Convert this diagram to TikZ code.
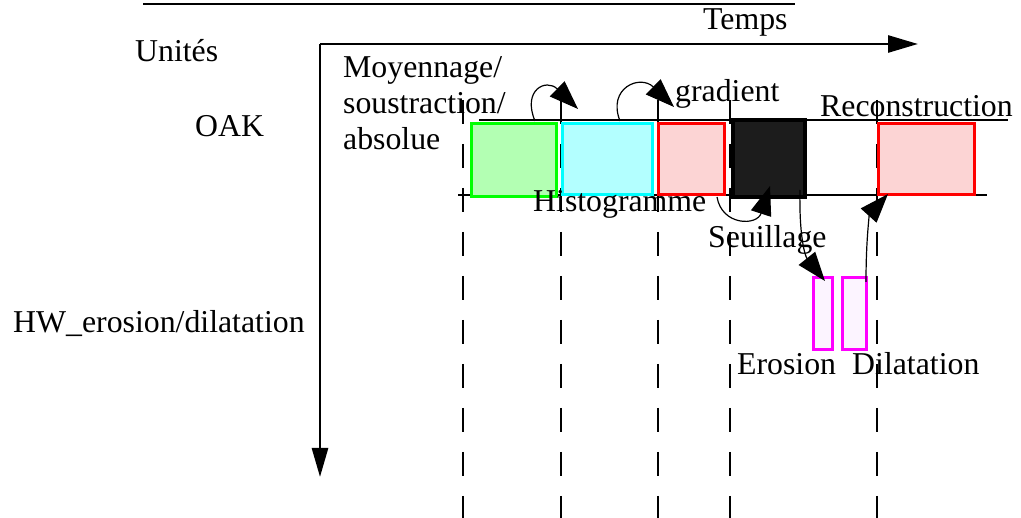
\documentclass[tikz,border=0pt]{standalone}
\usepackage{fontspec}
\setmainfont{Liberation Serif}
\usetikzlibrary{arrows.meta}
\definecolor{gfill}{RGB}{179,255,179}
\definecolor{gline}{RGB}{0,255,0}
\definecolor{cfill}{RGB}{179,255,255}
\definecolor{cline}{RGB}{0,255,255}
\definecolor{rfill}{RGB}{252,212,212}
\definecolor{rline}{RGB}{255,0,0}
\definecolor{kfill}{RGB}{28,28,28}
\definecolor{mline}{RGB}{255,0,255}
\definecolor{mfill}{RGB}{252,244,255}
\begin{document}
\begin{tikzpicture}[x=1pt,y=-1pt,
  lbl/.style={font=\fontsize{31.8pt}{36pt}\selectfont, inner sep=0pt, anchor=base west},
  box/.style={draw, rectangle, inner sep=0pt, anchor=north west, line width=3pt},
  dashline/.style={dash pattern=on 24pt off 20pt, line width=1.2pt},
  axis/.style={line width=2.7pt},
  arr/.style={line width=1.2pt, -{Triangle[length=29pt,width=21pt]}}]
\useasboundingbox (0,0) rectangle (1021,518);
% top rule
\coordinate (r1) at (143,4);
\coordinate (r2) at (795,4);
\draw[line width=1.3pt] (r1) -- (r2);
% axes
\coordinate (o) at (320,44);
\coordinate (xe) at (918,44);
\coordinate (ye) at (320,477);
\draw[axis, -{Triangle[length=30pt,width=17pt]}] (o) -- (xe);
\draw[axis, -{Triangle[length=29pt,width=16pt]}] (o) -- (ye);
% horizontal track lines
\coordinate (t1) at (479,120);
\coordinate (t2) at (1008,120);
\coordinate (b1) at (458,195);
\coordinate (b2) at (987,195);
\draw[line width=2.5pt] (t1) -- (t2);
\draw[line width=2.5pt] (b1) -- (b2);
% dashed lines
\foreach \xx/\w [count=\i] in {463/2.4, 561/1.2, 658/1.2, 730/1.2, 877/1.2}{
  \coordinate (d\i a) at (\xx,100);
  \coordinate (d\i b) at (\xx,518);
  \draw[dashline, line width=\w pt] (d\i a) -- (d\i b);
}
% boxes
\node[box, fill=gfill, draw=gline, minimum width=85pt, minimum height=73pt] (green) at (470,122) {};
\node[box, fill=cfill, draw=cline, minimum width=90pt, minimum height=71pt] (cyan) at (561,122) {};
\node[box, fill=rfill, draw=rline, minimum width=66pt, minimum height=71pt] (red1) at (657,122) {};
\node[box, fill=kfill, draw=black, line width=4pt, minimum width=72pt, minimum height=77pt] (blk) at (731,118) {};
\node[box, fill=rfill, draw=rline, minimum width=96pt, minimum height=71pt] (red2) at (877,122) {};
\node[box, fill=mfill, draw=mline, minimum width=19pt, minimum height=72pt] (ero) at (812,276) {};
\node[box, fill=mfill, draw=mline, minimum width=24pt, minimum height=72pt] (dil) at (841,276) {};
% labels
\node[lbl] (unites) at (135,62) {Unités};
\node[lbl] (temps) at (703,30) {Temps};
\node[lbl] (moy1) at (343,78) {Moyennage/};
\node[lbl] (moy2) at (343,114) {soustraction/};
\node[lbl] (moy3) at (343,150) {absolue};
\node[lbl] (oak) at (195,137) {OAK};
\node[lbl] (hw) at (13,333) {HW\_erosion/dilatation};
\node[lbl] (grad) at (675,102) {gradient};
\node[lbl] (recon) at (820,117) {Reconstruction};
\node[lbl] (histo) at (533,212) {Histogramme};
\node[lbl] (seuil) at (708,248) {Seuillage};
\node[lbl] (erol) at (737,375) {Erosion};
\node[lbl] (dill) at (852,375) {Dilatation};
% connector end points
\coordinate (a1s) at (535,121);
\coordinate (a1e) at (578,109);
\coordinate (a2s) at (620,121);
\coordinate (a2e) at (674,107);
\coordinate (a3s) at (717,197);
\coordinate (a3e) at (770,186);
\coordinate (a4s) at (800,190);
\coordinate (a4e) at (825,281);
\coordinate (a5s) at (866,282);
\coordinate (a5e) at (888,194);
% curved arrows
\draw[arr] (a1s) .. controls (522,90) and (546,78) .. (a1e);
\draw[arr] (a2s) .. controls (607,88) and (640,74) .. (a2e);
\draw[arr] (a3s) .. controls (722,226) and (757,226) .. (a3e);
\draw[arr] (a4s) .. controls (799,236) and (805,256) .. (a4e);
\draw[arr] (a5s) .. controls (866,235) and (870,214) .. (a5e);
\end{tikzpicture}
\end{document}
